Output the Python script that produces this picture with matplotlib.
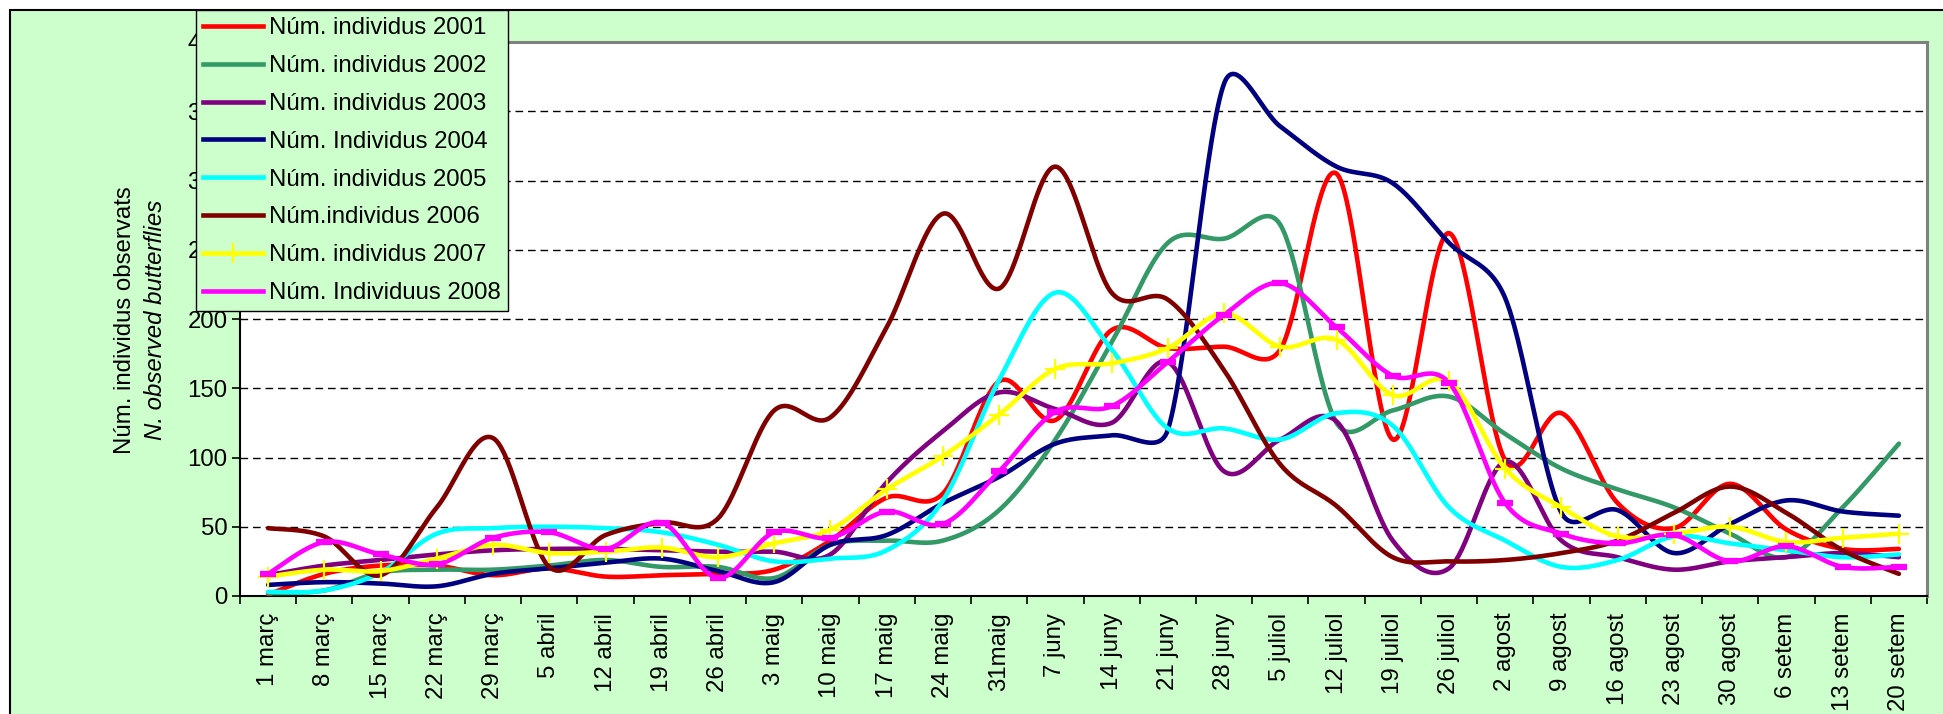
import numpy as np
import matplotlib
matplotlib.use("Agg")
import matplotlib.pyplot as plt
from matplotlib.patches import Rectangle
from matplotlib.lines import Line2D

plt.rcParams['font.family'] = ['Liberation Sans', 'DejaVu Sans']

# ---------------- data ----------------
categories = ["1 març", "8 març", "15 març", "22 març", "29 març", "5 abril", "12 abril",
              "19 abril", "26 abril", "3 maig", "10 maig", "17 maig", "24 maig", "31maig",
              "7 juny", "14 juny", "21 juny", "28 juny", "5 juliol", "12 juliol", "19 juliol",
              "26 juliol", "2 agost", "9 agost", "16 agost", "23 agost", "30 agost",
              "6 setem", "13 setem", "20 setem"]

y2001 = [1, 16, 22, 22, 15, 20, 14, 15, 16, 19, 40, 71, 74, 155, 127, 192, 179, 180, 178, 305,
         113, 262, 98, 132, 67, 49, 81, 48, 34, 34]
y2002 = [2, 4, 17, 19, 19, 22, 26, 21, 21, 13, 37, 40, 40, 62, 113, 183, 255, 258, 268, 125,
         134, 144, 117, 92, 77, 64, 45, 28, 64, 110]
y2003 = [15, 22, 26, 30, 33, 34, 34, 33, 32, 32, 30, 82, 119, 147, 135, 125, 169, 90, 113, 126,
         40, 20, 97, 40, 28, 19, 25, 28, 31, 28]
y2004 = [8, 10, 9, 7, 16, 20, 24, 27, 18, 10, 37, 44, 67, 86, 110, 116, 120, 370, 339, 310,
         298, 255, 215, 60, 62, 31, 52, 69, 61, 58]
y2005 = [3, 4, 17, 45, 49, 50, 49, 46, 37, 25, 27, 33, 69, 156, 219, 178, 121, 121, 113, 132,
         123, 64, 40, 21, 26, 43, 38, 33, 28, 30]
y2006 = [49, 43, 15, 64, 114, 21, 44, 53, 56, 134, 129, 194, 276, 222, 310, 219, 214, 163, 95, 65,
         28, 25, 26, 31, 40, 60, 79, 60, 33, 16]
y2007 = [14, 19, 18, 27, 37, 31, 32, 35, 28, 38, 48, 77, 101, 131, 164, 168, 179, 204, 180, 185,
         145, 155, 92, 64, 43, 45, 50, 39, 42, 45]
y2008 = [16, 39, 30, 23, 42, 46, 34, 53, 13, 46, 42, 61, 52, 90, 133, 137, 169, 203, 226, 194,
         159, 154, 67, 45, 38, 44, 25, 36, 21, 21]

labels = ["Núm. individus 2001", "Núm. individus 2002", "Núm. individus 2003",
          "Núm. Individus 2004", "Núm. individus 2005", "Núm.individus 2006",
          "Núm. individus 2007", "Núm. Individuus 2008"]
yticks = [0, 50, 100, 150, 200, 250, 300, 350, 400]

series = [y2001, y2002, y2003, y2004, y2005, y2006, y2007, y2008]
colors = ["#FF0000", "#339966", "#800080", "#000080", "#00FFFF", "#800000", "#FFFF00", "#FF00FF"]

FS = 17.3


def smooth_display(P, n=40):
    """Excel-like smoothed line, computed in display space.
    P: (N,2) array of display coordinates."""
    P = np.asarray(P, float)
    Q = np.vstack([P[0], P, P[-1]])
    t = np.linspace(0, 1, n, endpoint=False)[:, None]
    out = []
    for i in range(1, len(Q) - 2):
        p0, p1, p2, p3 = Q[i - 1], Q[i], Q[i + 1], Q[i + 2]
        seg = np.linalg.norm(p2 - p1)
        v1 = (p2 - p0) / 6.0
        v2 = (p3 - p1) / 6.0
        for v in (v1, v2):
            L = np.linalg.norm(v)
            if L > seg / 2 and L > 0:
                v *= (seg / 2) / L
        b1 = p1 + v1
        b2 = p2 - v2
        pts = ((1 - t) ** 3) * p1 + 3 * ((1 - t) ** 2) * t * b1 + 3 * (1 - t) * t ** 2 * b2 + t ** 3 * p2
        out.append(pts)
    out.append(P[-1][None, :])
    return np.vstack(out)


W, H = 1943, 714
fig = plt.figure(figsize=(W / 100, H / 100), dpi=100)
fig.patch.set_facecolor("white")

# green chart area with black border (left & top visible)
fig.patches.append(Rectangle((10 / W, -0.1), 1.2, (H - 10) / H + 0.1, transform=fig.transFigure,
                             facecolor="#CCFFCC", edgecolor="black", lw=1.5, zorder=-10))

left, right, top, bottom = 240, 1927, 42, 596
ax = fig.add_axes([left / W, 1 - bottom / H, (right - left) / W, (bottom - top) / H])
ax.set_facecolor("white")

xs = np.arange(len(categories))
ax.set_xlim(-0.5, len(categories) - 0.5)
ax.set_ylim(0, 400)

for ys, c in zip(series, colors):
    disp = ax.transData.transform(np.column_stack([xs, ys]))
    curve = ax.transData.inverted().transform(smooth_display(disp))
    ax.plot(curve[:, 0], curve[:, 1], color=c, lw=3.3, solid_capstyle='round', zorder=3)

# markers for 2007 and 2008
ax.plot(xs, y2007, linestyle='none', marker='+', ms=14, mew=1.6, color="#FFFF00", zorder=4)
ax.plot(xs, y2008, linestyle='none', marker='_', ms=11, mew=4.5, color="#FF00FF", zorder=5)

ax.set_yticks(yticks)
ax.set_yticklabels([str(v) for v in yticks], fontsize=FS)
ax.tick_params(axis='y', direction='out', length=6, width=1.2, pad=3, colors='black')

ax.set_xticks(np.arange(-0.5, len(categories), 1.0))
ax.set_xticklabels([])
ax.tick_params(axis='x', which='major', direction='out', length=6, width=1.2)
ax.set_xticks(xs, minor=True)
ax.set_xticklabels(categories, minor=True, rotation=90, fontsize=FS, va='top', ha='center')
ax.tick_params(axis='x', which='minor', length=0, pad=12)

for v in yticks[1:-1]:
    ax.axhline(v, color='black', lw=1.0, linestyle=(0, (5.5, 3.5)), zorder=1)

for s in ['left', 'bottom']:
    ax.spines[s].set_color('black')
    ax.spines[s].set_linewidth(1.5)
for s in ['top', 'right']:
    ax.spines[s].set_color('#808080')
    ax.spines[s].set_linewidth(2.2)

# y axis label (two lines, second italic)
fig.text(125 / W, 1 - 320 / H, "Núm. individus observats", rotation=90, fontsize=FS,
         ha='center', va='center')
fig.text(156 / W, 1 - 320 / H, "N. observed butterflies", rotation=90, fontsize=FS,
         style='italic', ha='center', va='center')

# legend
handles = []
for c, lab in zip(colors, labels):
    if lab.endswith("2007"):
        h = Line2D([], [], color=c, lw=3.3, marker='+', ms=14, mew=1.6)
    else:
        h = Line2D([], [], color=c, lw=3.3)
    handles.append(h)
leg = fig.legend(handles, labels, loc='upper left', bbox_to_anchor=(195.5 / W, 1 - 10 / H),
                 bbox_transform=fig.transFigure, borderaxespad=0, fontsize=FS,
                 frameon=True, fancybox=False, framealpha=1, facecolor="#CCFFCC",
                 edgecolor='black', handlelength=2.5, handletextpad=0.25,
                 borderpad=0.3, labelspacing=0.66, numpoints=1)
leg.get_frame().set_linewidth(1.0)

fig.savefig("out.png", dpi=100)
